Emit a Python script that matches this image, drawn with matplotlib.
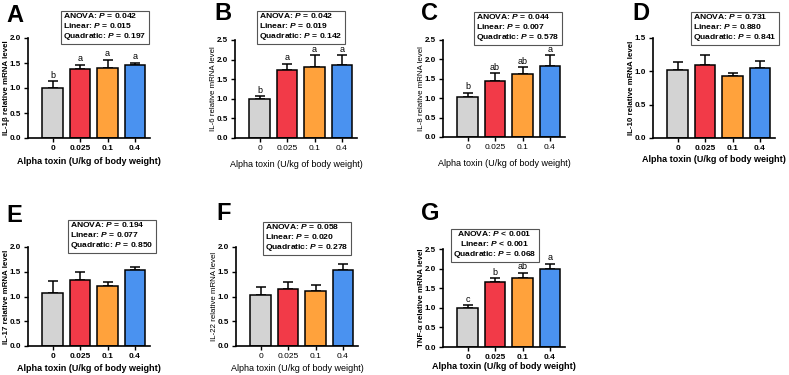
import matplotlib.pyplot as plt
import numpy as np

plt.rcParams['font.family'] = ['Liberation Sans', 'DejaVu Sans']
plt.rcParams['mathtext.fontset'] = 'custom'
plt.rcParams['mathtext.it'] = 'Liberation Sans:italic:bold'
plt.rcParams['mathtext.rm'] = 'Liberation Sans:bold'

doses = ['0', '0.025', '0.1', '0.4']
colors = ['#d3d3d3', '#f23a48', '#ffa23c', '#4a92f0']

panels = ['A', 'B', 'C', 'D', 'E', 'F', 'G']
genes = ['IL-1β', 'IL-6', 'IL-8', 'IL-10', 'IL-17', 'IL-22', 'TNF-α']
means = [
    [1.01, 1.38, 1.40, 1.46],
    [1.00, 1.74, 1.82, 1.86],
    [1.02, 1.45, 1.62, 1.82],
    [1.02, 1.10, 0.93, 1.05],
    [1.08, 1.34, 1.22, 1.54],
    [1.04, 1.16, 1.12, 1.54],
    [1.00, 1.65, 1.76, 1.99],
]
errs = [
    [0.13, 0.09, 0.17, 0.05],
    [0.07, 0.16, 0.29, 0.25],
    [0.12, 0.19, 0.18, 0.29],
    [0.12, 0.15, 0.04, 0.11],
    [0.24, 0.16, 0.08, 0.06],
    [0.16, 0.13, 0.11, 0.11],
    [0.06, 0.10, 0.13, 0.13],
]
letters = [
    ['b', 'a', 'a', 'a'],
    ['b', 'a', 'a', 'a'],
    ['b', 'ab', 'ab', 'a'],
    None, None, None,
    ['c', 'b', 'ab', 'a'],
]
ymax = [2.0, 2.5, 2.5, 1.5, 2.0, 2.0, 2.5]
anova = ['= 0.042', '= 0.042', '= 0.044', '= 0.731', '= 0.194', '= 0.058', '< 0.001']
linear = ['= 0.015', '= 0.019', '= 0.007', '= 0.880', '= 0.077', '= 0.020', '< 0.001']
quad = ['= 0.197', '= 0.142', '= 0.578', '= 0.841', '= 0.850', '= 0.278', '= 0.068']

# pixel layout: axes left, top, bottom ; stats box left, top ; panel letter x, baseline
W, H = 789, 375
ax_px = [(28, 38, 138), (235, 40, 138), (443, 40, 137), (653, 38, 138),
         (28, 247, 346), (236, 247, 346), (443, 249, 347)]
box_px = [(61, 9), (257, 9), (474, 10), (691, 10), (68, 218), (263, 220), (451, 227)]
let_px = [(6, 22), (214, 20), (421, 20), (632, 20), (6, 222), (216, 220), (421, 220)]
xlab_pad = [4, 6, 6, 2, 3, 3, 1]
bold = [True, False, False, True, True, False, True]

fig = plt.figure(figsize=(W / 100, H / 100), dpi=100)

for i in range(7):
    l, t, b = ax_px[i]
    ax = fig.add_axes([l / W, 1 - b / H, 122 / W, (b - t) / H])
    fw = 'bold' if bold[i] else 'normal'
    x = np.arange(4)
    ax.bar(x, means[i], width=0.75, color=colors, edgecolor='black', linewidth=1.1, zorder=2)
    ax.errorbar(x, means[i], yerr=[[0] * 4, errs[i]], fmt='none', ecolor='black',
                elinewidth=1.1, capsize=3.5, capthick=1.1, zorder=1)
    if letters[i]:
        for j in range(4):
            ax.text(x[j], means[i][j] + errs[i][j] + 0.015 * ymax[i], letters[i][j],
                    ha='center', va='bottom', fontsize=6.5)
    ax.set_xlim(-0.9, 3.55)
    ax.set_ylim(0, ymax[i])
    ax.set_yticks(np.arange(0, ymax[i] + 0.01, 0.5))
    ax.set_yticklabels(['%.1f' % v for v in np.arange(0, ymax[i] + 0.01, 0.5)],
                       fontsize=5.8, fontweight='bold')
    ax.set_xticks(x)
    ax.set_xticklabels(doses, fontsize=6, fontweight=fw)
    ax.tick_params(length=3, width=1.0, pad=2)
    ax.spines['top'].set_visible(False)
    ax.spines['right'].set_visible(False)
    ax.spines['left'].set_linewidth(1.2)
    ax.spines['bottom'].set_linewidth(1.2)
    ax.set_ylabel(genes[i] + ' relative mRNA level', fontsize=5.7, fontweight=fw)
    ax.yaxis.set_label_coords(-18 / 122, 0.5)
    ax.set_xlabel('Alpha toxin (U/kg of body weight)', fontsize=6.5, fontweight=fw,
                  labelpad=xlab_pad[i])

    lx, ly = let_px[i]
    fig.text(lx / W, 1 - ly / H, panels[i], fontsize=17, fontweight='bold',
             ha='left', va='baseline')

    bl, bt = box_px[i]
    txt = ('ANOVA: $P$ ' + anova[i] + '\nLinear: $P$ ' + linear[i]
           + '\nQuadratic: $P$ ' + quad[i])
    fig.text((bl + 2) / W, 1 - (bt + 2) / H, txt, fontsize=6.1, fontweight='bold',
             ha='left', va='top', linespacing=1.15,
             multialignment='center' if i == 6 else 'left',
             bbox=dict(boxstyle='square,pad=0.28', facecolor='white',
                       edgecolor='#555555', linewidth=0.8))

fig.savefig('out.png', dpi=100)
